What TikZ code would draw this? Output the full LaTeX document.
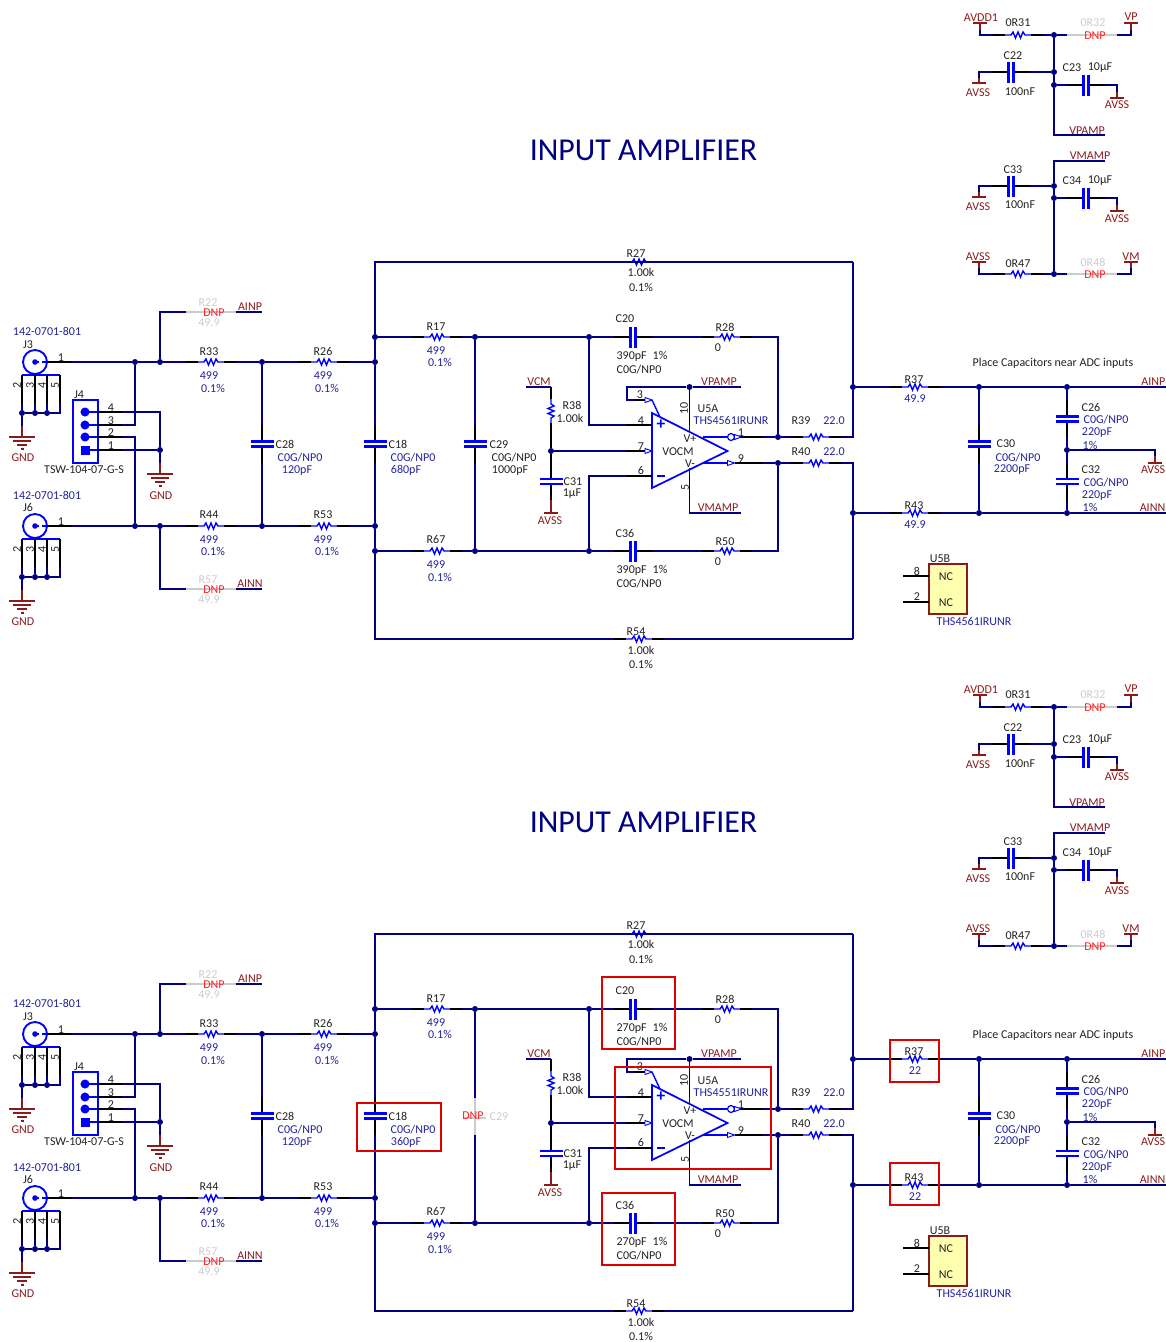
\documentclass[tikz,border=0pt]{standalone}
\usepackage{fontspec}
\setmainfont{Carlito}
\definecolor{netc}{HTML}{000080}
\definecolor{compc}{HTML}{0000FF}
\definecolor{valc}{HTML}{22229A}
\definecolor{pwrc}{HTML}{8B1A1A}
\definecolor{grayc}{HTML}{CCCCCC}
\definecolor{dnpc}{HTML}{FF2020}
\definecolor{blkc}{HTML}{222222}
\definecolor{markc}{HTML}{E00000}
\definecolor{bodyc}{HTML}{FFFFB0}
\tikzset{
  wire/.style={draw=netc,line width=1.05pt,line join=miter},
  pinw/.style={draw=black,line width=1.05pt},
  comp/.style={draw=compc,line width=1.05pt,line join=miter},
  capplate/.style={draw=compc,line width=1.6pt},
  pwrw/.style={draw=pwrc,line width=1.05pt},
  dnpw/.style={draw=grayc,line width=1.05pt},
  markbox/.style={draw=markc,line width=1.9pt},
  junct/.style={circle,fill=netc,inner sep=0pt,minimum size=4.5pt},
  txt/.style={inner sep=0pt,yshift=-0.5pt,font=\fontsize{9}{10}\selectfont,text=blkc},
  blk/.style={},
  val/.style={text=valc},
  pow/.style={text=pwrc},
  gry/.style={text=grayc},
  dnp/.style={text=dnpc},
  titl/.style={inner sep=0pt,font=\fontsize{23.9}{26}\selectfont,text=netc},
}
\newcount\tcnt
\newcommand\T[4][blk]{\global\advance\tcnt 1 \node[txt,#1] (t\the\tcnt) at (#2,#3) {#4};}
\newcommand\J[3]{\node[junct] (#1) at (#2,#3) {};}
\newcommand\K[3]{\coordinate (#1) at (#2,#3);}
% horizontal resistor: name, centre
\newcommand\Rh[3]{\K{#1-a}{#2-25}{#3}\K{#1-b}{#2+25}{#3}
  \draw[pinw] (#1-a) -- (#2-13,#3) (#2+13,#3) -- (#1-b);
  \draw[comp] (#2-13,#3) -- (#2-7,#3) -- (#2-5,#3-3) -- (#2-2.5,#3+3) -- (#2,#3-3) -- (#2+2.5,#3+3) -- (#2+5,#3-3) -- (#2+7,#3) -- (#2+13,#3);}
% vertical resistor
\newcommand\Rv[3]{\K{#1-a}{#2}{#3-12}\K{#1-b}{#2}{#3+12}
  \draw[comp] (#1-a) -- (#2,#3-7) -- (#2+3,#3-5) -- (#2-3,#3-2.5) -- (#2+3,#3) -- (#2-3,#3+2.5) -- (#2+3,#3+5) -- (#2,#3+7) -- (#1-b);}
% not placed resistor
\newcommand\Rd[3]{\K{#1-a}{#2-25}{#3}\K{#1-b}{#2+25}{#3}\draw[dnpw] (#1-a) -- (#1-b);}
% capacitors
\newcommand\Ch[3]{\K{#1-a}{#2-19}{#3}\K{#1-b}{#2+19}{#3}
  \draw[pinw] (#1-a) -- (#2-2.5,#3) (#2+2.5,#3) -- (#1-b);
  \draw[capplate] (#2-2.5,#3-10.5) -- (#2-2.5,#3+10.5) (#2+2.5,#3-10.5) -- (#2+2.5,#3+10.5);}
\newcommand\Cv[3]{\K{#1-a}{#2}{#3-19}\K{#1-b}{#2}{#3+19}
  \draw[pinw] (#1-a) -- (#2,#3-2.5) (#2,#3+2.5) -- (#1-b);
  \draw[capplate] (#2-11.5,#3-2.5) -- (#2+11.5,#3-2.5) (#2-11.5,#3+2.5) -- (#2+11.5,#3+2.5);}
% power bar: name, x, bar y, stem-end y
\newcommand\Pw[4]{\K{#1}{#2}{#4}\draw[pwrw] (#1) -- (#2,#3) (#2-7,#3) -- (#2+7,#3);}
% ground: name, x, top-bar y
\newcommand\Gn[3]{\K{#1}{#2}{#3-11}\draw[pwrw] (#1) -- (#2,#3) (#2-13,#3) -- (#2+13,#3) (#2-9,#3+4) -- (#2+9,#3+4) (#2-5,#3+8) -- (#2+5,#3+8) (#2-1.5,#3+12) -- (#2+1.5,#3+12);}
% open pin arrow
\newcommand\Ar[2]{\draw[compc,line width=.7pt,fill=white] (#1,#2-2.5) -- (#1+7,#2) -- (#1,#2+2.5) -- cycle;}
% coax connector: name, y
\newcommand\Conn[2]{
  \node[draw=compc,circle,line width=1.4pt,minimum size=18pt,inner sep=0pt] (#1-c) at (35,#2) {};
  \K{#1-out}{72}{#2}
  \fill[compc] (35,#2) circle (2.1pt);
  \draw[comp,densely dashed] (35,#2) -- (47,#2);
  \draw[pinw] (47,#2) -- (#1-out);
  \T{61}{#2-5}{1}
  \draw[comp] (22,#2+13) -- (60,#2+13);
  \J{#1-s1}{22}{#2+51}\J{#1-s2}{35}{#2+51}\J{#1-s3}{47}{#2+51}\K{#1-s4}{60}{#2+51}
  \draw[pinw] (22,#2+13) -- (22,#2+41) (35,#2+13) -- (35,#2+41) (47,#2+13) -- (47,#2+41) (60,#2+13) -- (60,#2+41);
  \draw[wire] (22,#2+41) -- (#1-s1) (35,#2+41) -- (#1-s2) (47,#2+41) -- (#1-s3) (60,#2+41) -- (#1-s4) -- (#1-s3) -- (#1-s2) -- (#1-s1);
  \Gn{#1-g}{22}{#2+75}
  \draw[wire] (#1-s1) -- (#1-g);
  \T[rotate=90]{17}{#2+23}{2}\T[rotate=90]{30}{#2+23}{3}\T[rotate=90]{42}{#2+23}{4}\T[rotate=90]{55}{#2+23}{5}
  \T[pow]{23}{#2+95}{GND}
  \T[val]{47}{#2-31}{142-0701-801}
}
\newif\ifaltered
\newcommand\sheet[5]{%
% #1 shift, #2 C18 value, #3 C20/C36 value, #4 amp part, #5 R37/R43 value
\begin{scope}[shift={(0,#1)}]
\T[titl]{643.5}{150}{INPUT AMPLIFIER}
% supply block
\Pw{vdd}{980}{23}{30}\T[pow]{981}{17}{AVDD1}
\Rh{R31}{1018}{35}\T{1018}{22}{0R31}
\J{js1}{1054}{35}
\Rd{R32}{1092}{35}\T[gry]{1093}{22}{0R32}\T[dnp]{1095}{35}{DNP}
\Pw{vpp}{1131}{23}{30}\T[pow]{1131}{16}{VP}
\draw[wire] (vdd) |- (R31-a) (R31-b) -- (js1) -- (R32-a) (R32-b) -| (vpp);
\Ch{C22}{1011}{72}\T{1013}{55}{C22}\T{1020}{91}{100nF}
\Pw{vs1}{979}{83}{78}\T[pow]{978}{92}{AVSS}
\J{js2}{1054}{72}\J{js3}{1054}{85}
\Ch{C23}{1086}{85}\T{1072}{67}{C23}\T{1100}{67}{10µF}
\Pw{vs2}{1117}{98}{92}\T[pow]{1117}{104}{AVSS}
\K{vpe}{1105}{135}\T[pow]{1087}{130}{VPAMP}
\draw[wire] (vs1) |- (C22-a) (C22-b) -- (js2) (C23-b) -| (vs2) (js3) -- (C23-a);
\draw[wire] (js1) -- (js2) -- (js3) |- (vpe);
\K{vme}{1105}{161}\T[pow]{1090}{155}{VMAMP}
\J{js4}{1054}{186}\J{js5}{1054}{198}\J{js6}{1054}{274}
\Ch{C33}{1011}{186}\T{1013}{169}{C33}\T{1020}{204}{100nF}
\Pw{vs3}{979}{197}{192}\T[pow]{978}{206}{AVSS}
\Ch{C34}{1086}{198}\T{1072}{180}{C34}\T{1100}{180}{10µF}
\Pw{vs4}{1117}{211}{205}\T[pow]{1117}{218}{AVSS}
\Pw{vs5}{979}{262}{268}\T[pow]{978}{256}{AVSS}
\Rh{R47}{1018}{274}\T{1018}{263}{0R47}
\Rd{R48}{1092}{274}\T[gry]{1093}{262}{0R48}\T[dnp]{1095}{274}{DNP}
\Pw{vmm}{1131}{262}{268}\T[pow]{1131}{256}{VM}
\draw[wire] (vme) -| (js4) (js4) -- (js5) -- (js6);
\draw[wire] (vs3) |- (C33-a) (C33-b) -- (js4) (js5) -- (C34-a) (C34-b) -| (vs4);
\draw[wire] (vs5) |- (R47-a) (R47-b) -- (js6) -- (R48-a) (R48-b) -| (vmm);
% connectors
\Conn{J3}{362}\T{28}{344}{J3}
\Conn{J6}{526}\T{28}{507}{J6}
% header J4
\node[draw=compc,line width=1.4pt,minimum width=18.5pt,minimum height=47pt,inner sep=0pt] (J4) at (85.5,431.5) {};
\T{79}{394}{J4}\T{84}{469}{TSW-104-07-G-S}
\fill[compc] (85,412) circle (3.4pt) (85,425) circle (3.4pt) (85,437) circle (3.4pt);
\fill[compc] (80.5,445.5) rectangle (89.5,454.5);
\K{p4}{122}{412}\K{p3}{122}{425}\K{p2}{122}{437}\K{p1}{122}{450}
\foreach \py in {412,425,437,450}{\draw[comp] (85,\py) -- (98,\py);\draw[pinw] (98,\py) -- (122,\py);}
\T{111}{407}{4}\T{111}{420}{3}\T{111}{432}{2}\T{111}{445}{1}
\J{gj}{160}{450}\Gn{g4}{160}{474}\T[pow]{161}{495}{GND}
% input nets
\J{n1}{135}{362}\J{n2}{160}{362}\J{n3}{262}{362}\J{n4}{375}{362}
\J{s1}{135}{526}\J{s2}{160}{526}\J{s3}{262}{526}\J{s4}{375}{526}
\Rh{R33}{211}{362}\T{209}{351}{R33}\T[val]{209}{375}{499}\T[val]{213}{388}{0.1\%}
\Rh{R44}{211}{526}\T{209}{514}{R44}\T[val]{209}{539}{499}\T[val]{213}{551}{0.1\%}
\Rh{R26}{324}{362}\T{323}{351}{R26}\T[val]{323}{375}{499}\T[val]{327}{388}{0.1\%}
\Rh{R53}{324}{526}\T{323}{514}{R53}\T[val]{323}{539}{499}\T[val]{327}{551}{0.1\%}
\Rd{R22}{211}{312}\T[gry]{208}{302}{R22}\T[dnp]{214}{312}{DNP}\T[gry]{209}{322}{49.9}
\Rd{R57}{211}{589}\T[gry]{208}{579}{R57}\T[dnp]{214}{589}{DNP}\T[gry]{209}{599}{49.9}
\K{ainpl}{262}{312}\T[pow]{250}{306}{AINP}
\K{ainnl}{262}{589}\T[pow]{250}{583}{AINN}
\draw[wire] (J3-out) -- (n1) -- (n2) -- (R33-a) (R33-b) -- (n3) -- (R26-a) (R26-b) -- (n4);
\draw[wire] (J6-out) -- (s1) -- (s2) -- (R44-a) (R44-b) -- (s3) -- (R53-a) (R53-b) -- (s4);
\draw[wire] (n2) |- (R22-a) (R22-b) -- (ainpl) (s2) |- (R57-a) (R57-b) -- (ainnl);
\draw[wire] (p4) -| (gj) (p3) -| (n1) (p2) -| (s1) (p1) -- (gj) (gj) -- (g4);
\Cv{C28}{262}{444}\T{285}{444}{C28}\T[val]{300}{457}{C0G/NP0}\T[val]{297}{470}{120pF}
\draw[wire] (n3) -- (C28-a) (C28-b) -- (s3);
% feedback frame
\K{tl}{375}{262}\K{bl}{375}{639}\K{tr}{853}{262}\K{br}{853}{639}
\J{a1}{375}{337}\J{b1}{375}{551}
\Rh{R27}{639}{262}\T{636}{253}{R27}\T{641}{272}{1.00k}\T{641}{287}{0.1\%}
\Rh{R54}{639}{639}\T{636}{631}{R54}\T{641}{650}{1.00k}\T{641}{664}{0.1\%}
\Cv{C18}{375}{444}\T{398}{444}{C18}\T[val]{413}{457}{C0G/NP0}\T[val]{406}{470}{#2}
\Rh{R17}{437}{337}\T{436}{326}{R17}\T[val]{436}{350}{499}\T[val]{440}{362}{0.1\%}
\Rh{R67}{437}{551}\T{436}{539}{R67}\T[val]{436}{564}{499}\T[val]{440}{577}{0.1\%}
\J{a2}{475}{337}\J{b2}{475}{551}\J{a3}{589}{337}\J{b3}{589}{551}
\Ch{C20}{633}{337}\T{625}{318}{C20}\T{642}{356}{#3\enspace 1\%}\T{639}{369}{C0G/NP0}
\Ch{C36}{633}{551}\T{625}{533}{C36}\T{642}{570}{#3\enspace 1\%}\T{639}{583}{C0G/NP0}
\Rh{R28}{727}{337}\T{725}{327}{R28}\T{718}{347}{0}
\Rh{R50}{727}{551}\T{725}{541}{R50}\T{718}{561}{0}
\K{c28r}{778}{337}\K{c50r}{778}{551}
\J{oa}{778}{437}\J{ob}{778}{463}
\draw[wire] (tr) -- (tl) -- (a1) -- (n4) -- (C18-a) (C18-b) -- (s4) -- (b1) -- (bl) -- (R54-a) (R54-b) -- (br);
\draw[wire] (a1) -- (R17-a) (R17-b) -- (a2) -- (a3) -- (C20-a) (C20-b) -- (R28-a) (R28-b) -- (c28r) -- (oa);
\draw[wire] (b1) -- (R67-a) (R67-b) -- (b2) -- (b3) -- (C36-a) (C36-b) -- (R50-a) (R50-b) -- (c50r) -- (ob);
\ifaltered
  \K{C29-a}{475}{426}\K{C29-b}{475}{463}
  \draw[dnpw] (C29-a) -- (C29-b) (464,446) -- (486,446);
  \T[gry]{499}{444}{C29}\T[dnp]{473}{443}{DNP}
\else
  \Cv{C29}{475}{444}\T{499}{444}{C29}\T{514}{457}{C0G/NP0}\T{510}{470}{1000pF}
\fi
\draw[wire] (a2) -- (C29-a) (C29-b) -- (b2);
% amplifier
\draw[comp,line width=1.3pt] (652,413) -- (727.5,451) -- (652,488) -- cycle;
\node[inner sep=0pt,font=\bfseries\fontsize{13}{13}\selectfont,text=compc] (plus) at (661,425) {+};
\draw[compc,line width=1.4pt] (657,476) -- (665,476);
\T{678}{451}{VOCM}\T{690}{438}{V+}\T{690}{463}{V-}
\T{708}{408}{U5A}\T[val]{731}{420}{#4}
\K{p4a}{627}{425}\K{p7a}{627}{451}\K{p6a}{627}{476}
\draw[pinw] (p4a) -- (652,425) (p7a) -- (645,451) (p6a) -- (652,476);
\T{641}{420}{4}\T{641}{446}{7}\T{641}{470}{6}
\Ar{645}{451}
\J{r38j}{551}{451}
\draw[wire] (a3) |- (p4a) (r38j) -- (p7a) (b3) |- (p6a);
% pin 3 and supplies
\J{vpj}{689.5}{387}\K{vpl}{741}{387}\K{p3c}{627}{387}\K{p3a}{635}{400}
\draw[wire] (vpl) -- (vpj) -- (p3c) |- (p3a);
\draw[pinw] (p3a) -- (645,400);
\Ar{645}{400}
\draw[comp] (652,400) -- (659.5,416);
\T{640}{394}{3}\T[pow]{719}{381}{VPAMP}
\K{p10a}{689.5}{425}
\draw[pinw] (vpj) -- (p10a);
\draw[comp] (p10a) -- (689.5,432);
\T[rotate=90]{684}{408}{10}
\K{p5a}{689.5}{502}\K{vml}{741}{513}
\draw[comp] (689.5,468) -- (689.5,475);
\draw[pinw] (689.5,475) -- (p5a);
\draw[wire] (p5a) |- (vml);
\T[rotate=90]{685}{487}{5}\T[pow]{718}{507}{VMAMP}
% outputs
\K{o1}{763}{437}\K{o9}{763}{463}
\draw[comp] (703,437) -- (727.5,437) (703,463) -- (727,463);
\draw[compc,line width=.9pt,fill=white] (731,437) circle (2.6pt);
\Ar{734.5}{437}\Ar{727.5}{463}
\draw[pinw] (741,437) -- (o1) (734.5,463) -- (o9);
\draw[wire] (o1) -- (oa) (o9) -- (ob);
\T{741}{432}{1}\T{741}{458}{9}
\Rh{R39}{816}{437}\T{801}{420}{R39}\T[val]{834}{420}{22.0}
\Rh{R40}{816}{463}\T{801}{451}{R40}\T[val]{834}{451}{22.0}
\J{fa}{853}{387}\J{fb}{853}{513}\K{r39c}{853}{437}\K{r40c}{853}{463}
\draw[wire] (oa) -- (R39-a) (R39-b) -- (r39c) -- (fa) -- (tr);
\draw[wire] (ob) -- (R40-a) (R40-b) -- (r40c) -- (fb) -- (br);
% VCM divider
\K{vcml}{526}{387}\K{vcmc}{551}{387}\T[pow]{539}{381}{VCM}
\Rv{R38}{551}{411}\T{572}{405}{R38}\T{570}{418}{1.00k}
\draw[wire] (vcml) -- (vcmc);
\draw[pinw] (vcmc) -- (R38-a) (R38-b) -- (r38j);
\Cv{C31}{551}{481.5}\T{573}{481}{C31}\T{572}{493}{1µF}
\Pw{vs6}{551}{513}{500}\T[pow]{550}{520}{AVSS}
\draw[pinw] (r38j) -- (C31-a);
% output network
\Rh{R37}{915}{387}\T{914}{379}{R37}\T[val]{915}{398}{#5}
\Rh{R43}{915}{513}\T{914}{505}{R43}\T[val]{915}{524}{#5}
\J{e1}{979}{387}\J{e2}{1067}{387}\J{f1}{979}{513}\J{f2}{1067}{513}\J{e3}{1067}{450}
\K{ainpr}{1170}{387}\K{ainnr}{1170}{513}
\T[pow,anchor=east]{1165.5}{381}{AINP}\T[pow,anchor=east]{1165.5}{507}{AINN}
\T{1053}{363}{Place Capacitors near ADC inputs}
\Cv{C30}{979}{444}\T{1006}{443}{C30}\T[val]{1018}{457}{C0G/NP0}\T[val]{1012}{469}{2200pF}
\Cv{C26}{1067}{419}\T{1091}{407}{C26}\T[val]{1106}{419}{C0G/NP0}\T[val]{1097}{432}{220pF}\T[val]{1090}{445}{1\%}
\Cv{C32}{1067}{481.5}\T{1091}{469}{C32}\T[val]{1106}{482}{C0G/NP0}\T[val]{1097}{495}{220pF}\T[val]{1090}{507}{1\%}
\Pw{vs7}{1155}{463}{456}\T[pow,anchor=east]{1165.5}{469}{AVSS}
\draw[wire] (fa) -- (R37-a) (R37-b) -- (e1) -- (e2) -- (ainpr);
\draw[wire] (fb) -- (R43-a) (R43-b) -- (f1) -- (f2) -- (ainnr);
\draw[wire] (e1) -- (C30-a) (C30-b) -- (f1);
\draw[wire] (e2) -- (C26-a) (C26-b) -- (e3) -- (C32-a) (C32-b) -- (f2);
\draw[wire] (e3) -| (vs7);
% U5B
\node[draw=pwrc,fill=bodyc,line width=.9pt,minimum width=28.5pt,minimum height=37.5pt,inner sep=0pt] (U5B) at (948,589) {};
\K{u8}{903}{576}\K{u2}{903}{602}
\draw[pinw] (u8) -- (929,576) (u2) -- (929,602);
\T{917}{571}{8}\T{917}{596}{2}\T{946}{576}{NC}\T{946}{602}{NC}\T{940}{558}{U5B}
\T[val]{974}{621}{THS4561IRUNR}
\ifaltered
  \draw[markbox] (602,305) rectangle (675,377);
  \draw[markbox] (602,521) rectangle (675,593);
  \draw[markbox] (615,395) rectangle (771,497);
  \draw[markbox] (357,431) rectangle (441,479);
  \draw[markbox] (890,368) rectangle (939,410);
  \draw[markbox] (890,491) rectangle (939,533);
\fi
\end{scope}}
\begin{document}
\begin{tikzpicture}[x=0.75pt,y=-0.75pt]
\useasboundingbox (0,0) rectangle (1166,1342);
\clip (0,0) rectangle (1166,1342);
\alteredfalse
\sheet{0}{680pF}{390pF}{THS4561IRUNR}{49.9}
\alteredtrue
\sheet{672}{360pF}{270pF}{THS4551IRUNR}{22}
\end{tikzpicture}
\end{document}
